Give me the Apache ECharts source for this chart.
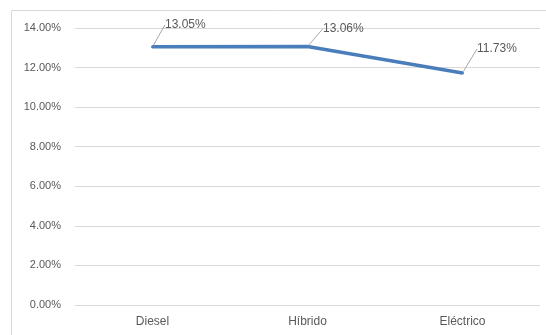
<!DOCTYPE html>
<html>
<head>
<meta charset="utf-8">
<script src="https://cdn.jsdelivr.net/npm/echarts@6/dist/echarts.min.js"></script>
<style>
  html, body { margin: 0; padding: 0; background: #fff; }
  #chart { width: 546px; height: 335px; }
</style>
</head>
<body>
<div id="chart"></div>
<script>
// Vehicle types and their rates
const categories = ['Diesel', 'Híbrido', 'Eléctrico'];
const rates = [0.1305, 0.1306, 0.1173];

// Value-axis range
const axisMin = 0;
const axisMax = 0.14;
const axisStep = 0.02;

// Where each value label sits relative to its point (pixels)
const labelShift = [[11, -22], [14, -18], [13, -24]];

const chart = echarts.init(document.getElementById('chart'), null, { renderer: 'canvas' });

const textColor = '#595959';
const fontFamily = '"Liberation Sans", Arial, sans-serif';
const lineColor = '#4a7ebb';

chart.setOption({
  animation: false,
  graphic: [{
    type: 'rect',
    shape: { x: 11.5, y: 10.5, width: 600, height: 400 },
    style: { fill: 'none', stroke: '#d9d9d9', lineWidth: 1 },
    silent: true
  }],
  grid: { left: 75, right: 6, top: 28, bottom: 30 },
  xAxis: {
    type: 'category',
    data: categories,
    boundaryGap: true,
    axisLine: { show: false },
    axisTick: { show: false },
    axisLabel: { color: textColor, fontSize: 12, fontFamily: fontFamily, margin: 11 }
  },
  yAxis: {
    type: 'value',
    min: axisMin,
    max: axisMax,
    interval: axisStep,
    axisLine: { show: false },
    axisTick: { show: false },
    splitLine: { lineStyle: { color: '#d9d9d9', width: 1 } },
    axisLabel: {
      color: textColor, fontSize: 11, fontFamily: fontFamily, margin: 14,
      formatter: v => (v * 100).toFixed(2) + '%'
    }
  },
  series: [{
    type: 'line',
    data: rates,
    symbol: 'circle',
    symbolSize: 3,
    itemStyle: { color: lineColor },
    lineStyle: { color: lineColor, width: 3.5 },
    label: {
      show: true,
      position: 'right',
      distance: 0,
      color: textColor,
      fontSize: 12,
      fontFamily: fontFamily,
      formatter: p => (p.value * 100).toFixed(2) + '%'
    },
    labelLine: {
      show: true,
      lineStyle: { color: '#a6a6a6', width: 1 }
    },
    labelLayout: p => ({ dx: labelShift[p.dataIndex][0], dy: labelShift[p.dataIndex][1] })
  }]
});
</script>
</body>
</html>
